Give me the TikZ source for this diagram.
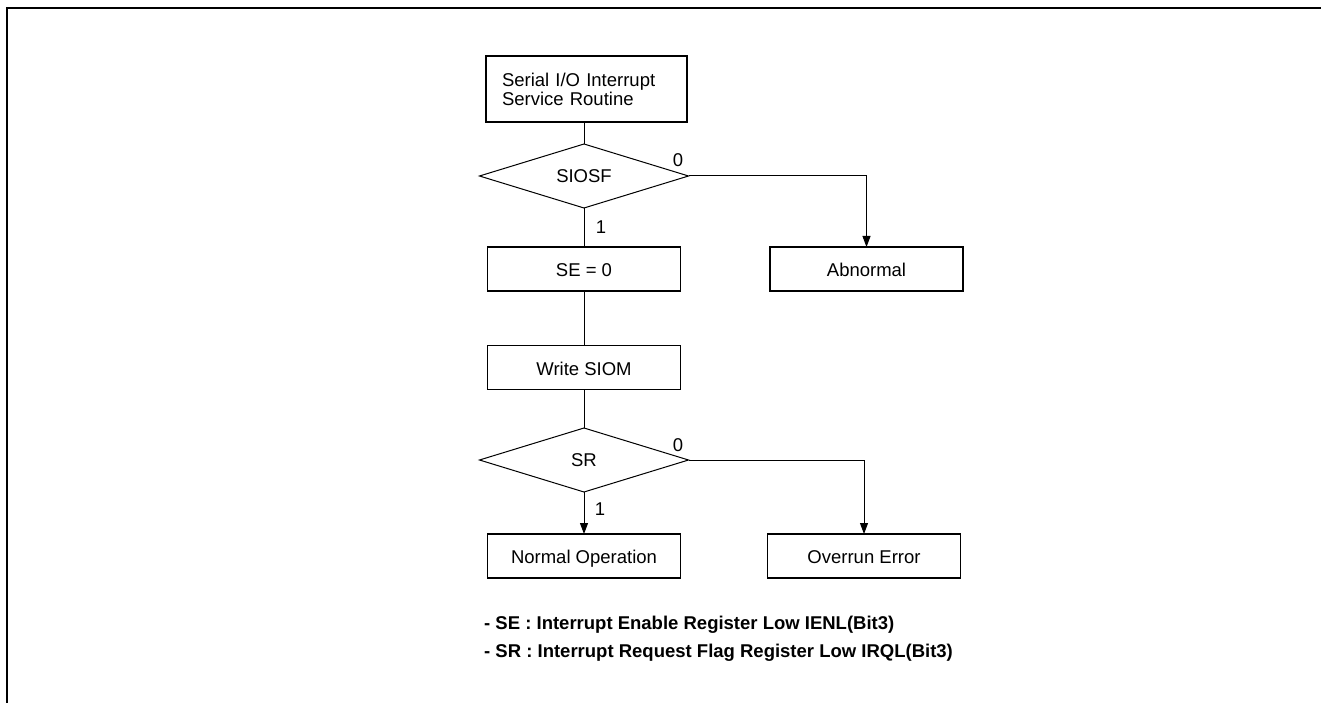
\documentclass[tikz,border=0pt]{standalone}
\usepackage{fontspec}
\setmainfont{Liberation Sans}
\usetikzlibrary{shapes.geometric,arrows.meta}
\tikzset{
    procbox/.style={
        draw,
        rectangle,
        line width=1.8pt,
        minimum width=193pt,
        minimum height=44pt,
        text height=15pt,
        text depth=0pt,
        inner sep=0pt,
        outer sep=0pt
    },
    decision/.style={
        draw,
        diamond,
        aspect=3.2,
        line width=1pt,
        minimum width=209pt,
        minimum height=64pt,
        inner sep=0pt,
        outer sep=0pt
    },
    flowline/.style={line width=1pt},
    % arrows that enter a box
    flowarrow/.style={
        line width=1pt,
        -{Triangle[length=11pt, width=8pt]}
    },
    branch/.style={inner sep=0pt},
    notetext/.style={anchor=base west, inner sep=0pt, font=\fontsize{18.5}{19}\selectfont\bfseries}
}

\begin{document}
\begin{tikzpicture}[x=1pt,y=-1pt,font=\fontsize{18.5}{19}\selectfont]
    \useasboundingbox (0,0) rectangle (1321,703);
    \draw[line width=2.5pt] (7,703) -- (7,8) -- (1321,8);

    \node[procbox, minimum width=201pt, minimum height=66pt, text width=169pt, text height=, text depth=, align=left] (isr) at (586.5,89) {Serial I/O Interrupt\\Service Routine};
    \node[decision] (siosf) at (584,176) {SIOSF};
    \node[procbox] (seclr) at (584,269) {SE = 0};
    \node[procbox] (abnormal) at (866.5,269) {Abnormal};
    \node[procbox] (wrsiom) at (584,367.5) {Write SIOM};
    \node[decision] (sr) at (584,460) {SR};
    \node[procbox] (normal) at (584,556) {Normal Operation};
    \node[procbox] (overrun) at (864,556) {Overrun Error};

    \draw[flowline] (siosf.north |- isr.south) -- (siosf.north);
    \draw[flowline] (siosf.south) -- (seclr.north);
    \draw[flowarrow] (siosf.east) -| (abnormal.north);
    \draw[flowline] (seclr.south) -- (wrsiom.north);
    \draw[flowline] (wrsiom.south) -- (sr.north);
    \draw[flowarrow] (sr.south) -- (normal.north);
    \draw[flowarrow] (sr.east) -| (overrun.north);

    \node[branch] (siosfno) at (678,160) {0};
    \node[branch] (siosfyes) at (601,227) {1};
    \node[branch] (srno) at (678,445) {0};
    \node[branch] (sryes) at (600,509) {1};

    \node[notetext] (notese) at (484,629) {- SE : Interrupt Enable Register Low IENL(Bit3)};
    \node[notetext] (notesr) at (484,657) {- SR : Interrupt Request Flag Register Low IRQL(Bit3)};
\end{tikzpicture}
\end{document}
